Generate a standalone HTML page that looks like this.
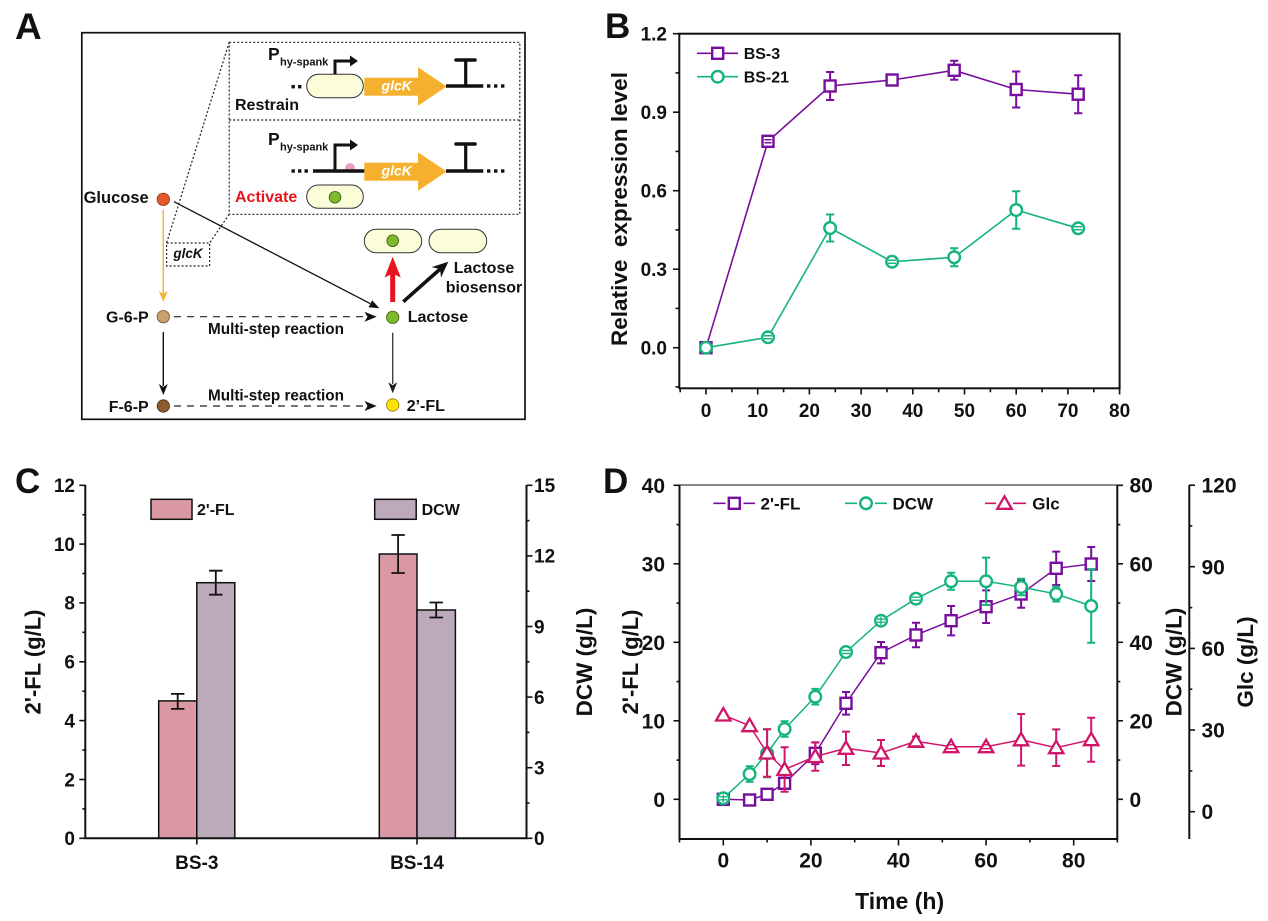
<!DOCTYPE html>
<html><head><meta charset="utf-8"><style>
html,body{margin:0;padding:0;background:#fff;}
svg{display:block;}
text{font-family:"Liberation Sans",Arial,sans-serif;font-weight:bold;fill:#111;}
</style></head><body>
<svg width="1268" height="921" viewBox="0 0 1268 921" xmlns="http://www.w3.org/2000/svg">
<rect width="1268" height="921" fill="#fff"/>

<!-- ================= PANEL A ================= -->
<text x="15" y="39" font-size="37">A</text>
<rect x="81.8" y="32.7" width="443.2" height="386.6" fill="none" stroke="#111" stroke-width="1.7"/>
<g fill="none" stroke="#222" stroke-width="1.2" stroke-dasharray="2 2">
<rect x="229.2" y="42.3" width="290.6" height="172"/>
<line x1="229.2" y1="120" x2="519.8" y2="120"/>
<line x1="229.2" y1="42.3" x2="166.6" y2="243"/>
<line x1="229.2" y1="214.3" x2="209.6" y2="243"/>
<rect x="166.6" y="243" width="43" height="23"/>
</g>
<text x="188" y="258" font-size="13.5" font-style="italic" text-anchor="middle">glcK</text>

<!-- construct 1 -->
<text x="268" y="60" font-size="17.5">P</text>
<text x="280" y="65.5" font-size="11">hy-spank</text>
<g fill="#111">
<rect x="291.5" y="85" width="3.4" height="3.4"/><rect x="298" y="85" width="3.4" height="3.4"/>
</g>
<rect x="306.7" y="74.3" width="56.6" height="23.4" rx="11.7" fill="#FBFCD8" stroke="#333" stroke-width="1"/>
<polyline points="335,74.3 335,61 352,61" fill="none" stroke="#111" stroke-width="3"/>
<polygon points="358,61 350,55.5 350,66.5" fill="#111"/>
<rect x="364.3" y="77.7" width="54.5" height="18" fill="#F5B12E"/>
<polygon points="418,67.3 446.7,86.5 418,105.7" fill="#F5B12E"/>
<text x="396.7" y="90.7" font-size="14" font-style="italic" text-anchor="middle" style="fill:#fff">glcK</text>
<line x1="446" y1="86" x2="483.3" y2="86" stroke="#111" stroke-width="3.4"/>
<line x1="465.7" y1="60" x2="465.7" y2="86" stroke="#111" stroke-width="3.2"/>
<line x1="456" y1="60" x2="475" y2="60" stroke="#111" stroke-width="3.6" stroke-linecap="round"/>
<g fill="#111">
<rect x="487" y="84.3" width="3.4" height="3.4"/><rect x="494" y="84.3" width="3.4" height="3.4"/><rect x="501" y="84.3" width="3.4" height="3.4"/>
</g>
<text x="235" y="110" font-size="16">Restrain</text>

<!-- construct 2 -->
<text x="268" y="145" font-size="17.5">P</text>
<text x="280" y="150.5" font-size="11">hy-spank</text>
<g fill="#111">
<rect x="291.5" y="169.3" width="3.4" height="3.4"/><rect x="298" y="169.3" width="3.4" height="3.4"/><rect x="304.5" y="169.3" width="3.4" height="3.4"/>
</g>
<circle cx="350" cy="168" r="5" fill="#E6A3C6"/>
<line x1="313" y1="171" x2="365" y2="171" stroke="#111" stroke-width="3.4"/>
<polyline points="335,171 335,145 352,145" fill="none" stroke="#111" stroke-width="3"/>
<polygon points="358,145 350,139.5 350,150.5" fill="#111"/>
<rect x="364.3" y="162.7" width="54.5" height="18" fill="#F5B12E"/>
<polygon points="418,152.3 446.7,171.5 418,190.7" fill="#F5B12E"/>
<text x="396.7" y="175.7" font-size="14" font-style="italic" text-anchor="middle" style="fill:#fff">glcK</text>
<line x1="446" y1="171" x2="483.3" y2="171" stroke="#111" stroke-width="3.4"/>
<line x1="465.7" y1="144" x2="465.7" y2="171" stroke="#111" stroke-width="3.2"/>
<line x1="456" y1="144" x2="475" y2="144" stroke="#111" stroke-width="3.6" stroke-linecap="round"/>
<g fill="#111">
<rect x="487" y="169.3" width="3.4" height="3.4"/><rect x="494" y="169.3" width="3.4" height="3.4"/><rect x="501" y="169.3" width="3.4" height="3.4"/>
</g>
<text x="235" y="201.8" font-size="16" style="fill:#E8141E">Activate</text>
<rect x="306.7" y="185" width="56.6" height="23.3" rx="11.6" fill="#FBFCD8" stroke="#333" stroke-width="1"/>
<circle cx="335" cy="197.3" r="5.8" fill="#7DBA2C" stroke="#2d4a10" stroke-width="0.8"/>

<!-- pathway -->
<line x1="174" y1="201.7" x2="370.4" y2="303.7" stroke="#111" stroke-width="1.3"/>
<polygon points="379.3,308.3 368.6,307.3 372.2,300.2" fill="#111"/>
<line x1="163.3" y1="210" x2="163.3" y2="294" stroke="#F6B33A" stroke-width="1.5"/>
<polygon points="163.3,302 158.8,291 163.3,294 167.8,291" fill="#F6B33A"/>
<line x1="163.3" y1="332" x2="163.3" y2="386" stroke="#111" stroke-width="1.4"/>
<polygon points="163.3,395 158.8,384 163.3,387 167.8,384" fill="#111"/>
<line x1="392.7" y1="332.7" x2="392.7" y2="384" stroke="#444" stroke-width="1.4"/>
<polygon points="392.7,393.3 388.2,382.3 392.7,385.3 397.2,382.3" fill="#222"/>
<line x1="174" y1="316.7" x2="366" y2="316.7" stroke="#222" stroke-width="1.2" stroke-dasharray="7 6"/>
<polygon points="376.7,316.7 364.5,311.7 367.5,316.7 364.5,321.7" fill="#111"/>
<line x1="174" y1="406" x2="366" y2="406" stroke="#222" stroke-width="1.2" stroke-dasharray="7 6"/>
<polygon points="376.7,406 364.5,401 367.5,406 364.5,411" fill="#111"/>
<rect x="390.2" y="272" width="5" height="30" fill="#E8141E"/>
<polygon points="392.7,256.7 384.6,277.5 392.7,273.5 400.8,277.5" fill="#E8141E"/>
<line x1="403.3" y1="301.7" x2="440" y2="269.1" stroke="#111" stroke-width="3.6"/>
<polygon points="448.3,261.7 441,277.6 440.1,269 431.6,267.1" fill="#111"/>

<circle cx="163.3" cy="199.3" r="6.2" fill="#E15A28" stroke="#8a3416" stroke-width="0.8"/>
<circle cx="163.3" cy="316.7" r="6.2" fill="#C9A06C" stroke="#6d5433" stroke-width="0.8"/>
<circle cx="163.3" cy="406" r="6.2" fill="#8C5A2E" stroke="#4a2e14" stroke-width="0.8"/>
<circle cx="392.7" cy="317.3" r="6.2" fill="#7DBA2C" stroke="#3d5c14" stroke-width="0.8"/>
<circle cx="392.7" cy="405" r="6.2" fill="#FFE300" stroke="#8a7a00" stroke-width="0.8"/>
<rect x="364.3" y="229.3" width="57.4" height="23.4" rx="11.7" fill="#FBFCD8" stroke="#333" stroke-width="1"/>
<circle cx="392.7" cy="240.7" r="5.8" fill="#7DBA2C" stroke="#2d4a10" stroke-width="0.8"/>
<rect x="429" y="229.3" width="57.7" height="23.4" rx="11.7" fill="#FBFCD8" stroke="#333" stroke-width="1"/>

<text x="148.7" y="202.8" font-size="16.5" text-anchor="end">Glucose</text>
<text x="148.7" y="322.5" font-size="16" text-anchor="end">G-6-P</text>
<text x="148.7" y="411.8" font-size="16" text-anchor="end">F-6-P</text>
<text x="276" y="333.8" font-size="15.3" text-anchor="middle">Multi-step reaction</text>
<text x="276" y="400.5" font-size="15.3" text-anchor="middle">Multi-step reaction</text>
<text x="407.7" y="321.8" font-size="16">Lactose</text>
<text x="406.7" y="410.8" font-size="16">2’-FL</text>
<text x="484" y="273.1" font-size="16" text-anchor="middle">Lactose</text>
<text x="484" y="292.5" font-size="16" text-anchor="middle">biosensor</text>

<!-- ================= PANEL B ================= -->
<text x="605" y="38" font-size="35">B</text>
<rect x="679.3" y="33.7" width="440.3" height="354.6" fill="none" stroke="#111" stroke-width="2"/>
<g stroke="#111" stroke-width="1.6">
<line x1="679.3" y1="347.7" x2="673" y2="347.7"/><line x1="679.3" y1="269.2" x2="673" y2="269.2"/>
<line x1="679.3" y1="190.7" x2="673" y2="190.7"/><line x1="679.3" y1="112.2" x2="673" y2="112.2"/>
<line x1="679.3" y1="33.7" x2="673" y2="33.7"/>
<line x1="679.3" y1="386.9" x2="675.5" y2="386.9"/><line x1="679.3" y1="308.4" x2="675.5" y2="308.4"/>
<line x1="679.3" y1="229.9" x2="675.5" y2="229.9"/><line x1="679.3" y1="151.4" x2="675.5" y2="151.4"/>
<line x1="679.3" y1="72.9" x2="675.5" y2="72.9"/>
<line x1="706" y1="388.3" x2="706" y2="394.5"/><line x1="757.7" y1="388.3" x2="757.7" y2="394.5"/>
<line x1="809.4" y1="388.3" x2="809.4" y2="394.5"/><line x1="861.1" y1="388.3" x2="861.1" y2="394.5"/>
<line x1="912.8" y1="388.3" x2="912.8" y2="394.5"/><line x1="964.5" y1="388.3" x2="964.5" y2="394.5"/>
<line x1="1016.2" y1="388.3" x2="1016.2" y2="394.5"/><line x1="1067.9" y1="388.3" x2="1067.9" y2="394.5"/>
<line x1="1119.6" y1="388.3" x2="1119.6" y2="394.5"/>
<line x1="680.2" y1="388.3" x2="680.2" y2="392.3"/><line x1="731.9" y1="388.3" x2="731.9" y2="392.3"/>
<line x1="783.6" y1="388.3" x2="783.6" y2="392.3"/><line x1="835.3" y1="388.3" x2="835.3" y2="392.3"/>
<line x1="887" y1="388.3" x2="887" y2="392.3"/><line x1="938.7" y1="388.3" x2="938.7" y2="392.3"/>
<line x1="990.4" y1="388.3" x2="990.4" y2="392.3"/><line x1="1042.1" y1="388.3" x2="1042.1" y2="392.3"/>
<line x1="1093.8" y1="388.3" x2="1093.8" y2="392.3"/>
</g>
<g font-size="19" text-anchor="end">
<text x="667" y="354.5">0.0</text><text x="667" y="276">0.3</text><text x="667" y="197.5">0.6</text>
<text x="667" y="119">0.9</text><text x="667" y="40.5">1.2</text>
</g>
<g font-size="19" text-anchor="middle">
<text x="706" y="416.8">0</text><text x="757.7" y="416.8">10</text><text x="809.4" y="416.8">20</text>
<text x="861.1" y="416.8">30</text><text x="912.8" y="416.8">40</text><text x="964.5" y="416.8">50</text>
<text x="1016.2" y="416.8">60</text><text x="1067.9" y="416.8">70</text><text x="1119.6" y="416.8">80</text>
</g>
<text transform="translate(627,209) rotate(-90)" font-size="22.5" text-anchor="middle" xml:space="preserve">Relative  expression level</text>

<!-- BS-3 -->
<g stroke="#780D9E" stroke-width="1.6" fill="none">
<polyline points="706,347.7 768,141.3 830.1,86 892.1,80 954.2,70.3 1016.2,89.5 1078.2,94.2"/>
<line x1="697" y1="53.3" x2="738" y2="53.3"/>
</g>
<g stroke="#780D9E" stroke-width="2" fill="none">
<path d="M830.1,72V100M826,72H834.2M826,100H834.2"/>
<path d="M892.1,77V83M888,77H896.2M888,83H896.2"/>
<path d="M954.2,60.8V79.8M950.1,60.8H958.3M950.1,79.8H958.3"/>
<path d="M1016.2,71.5V107.5M1012.1,71.5H1020.3M1012.1,107.5H1020.3"/>
<path d="M1078.2,75.2V113.2M1074.1,75.2H1082.3M1074.1,113.2H1082.3"/>
</g>
<g stroke="#780D9E" stroke-width="2.4" fill="#fff">
<rect x="700.5" y="342.2" width="11" height="11"/>
<rect x="762.5" y="135.8" width="11" height="11"/>
<rect x="824.6" y="80.5" width="11" height="11"/>
<rect x="886.6" y="74.5" width="11" height="11"/>
<rect x="948.7" y="64.8" width="11" height="11"/>
<rect x="1010.7" y="84" width="11" height="11"/>
<rect x="1072.7" y="88.7" width="11" height="11"/>
<rect x="712.2" y="47.8" width="11" height="11"/>
</g>
<g stroke="#780D9E" stroke-width="1.5"><path d="M764.5,139.8H771.5M764.5,142.8H771.5"/></g>
<!-- BS-21 -->
<g stroke="#14B47C" stroke-width="1.6" fill="none">
<polyline points="706,347.7 768,337.3 830.1,228 892.1,261.7 954.2,257.3 1016.2,210 1078.2,228.3"/>
<line x1="697" y1="76.7" x2="738" y2="76.7"/>
</g>
<g stroke="#14B47C" stroke-width="2" fill="none">
<path d="M830.1,214.5V241.5M826,214.5H834.2M826,241.5H834.2"/>
<path d="M954.2,248.3V266.3M950.1,248.3H958.3M950.1,266.3H958.3"/>
<path d="M1016.2,191.3V228.7M1012.1,191.3H1020.3M1012.1,228.7H1020.3"/>
</g>
<g stroke="#14B47C" stroke-width="2.4" fill="#fff">
<circle cx="706" cy="347.7" r="5.8"/>
<circle cx="768" cy="337.3" r="5.8"/>
<circle cx="830.1" cy="228" r="5.8"/>
<circle cx="892.1" cy="261.7" r="5.8"/>
<circle cx="954.2" cy="257.3" r="5.8"/>
<circle cx="1016.2" cy="210" r="5.8"/>
<circle cx="1078.2" cy="228.3" r="5.8"/>
<circle cx="717.7" cy="76.7" r="5.8"/>
</g>
<g stroke="#14B47C" stroke-width="1.5"><path d="M764,335.8H772M764,338.8H772M888,260.2H896M888,263.2H896M1074,226.8H1082M1074,229.8H1082"/></g>
<text x="743.7" y="59" font-size="16">BS-3</text>
<text x="743.7" y="82.5" font-size="16">BS-21</text>

<!-- ================= PANEL C ================= -->
<text x="15" y="493" font-size="35">C</text>
<g stroke="#111" stroke-width="1.5">
<rect x="158.7" y="700.9" width="38.1" height="137.4" fill="#D998A4"/>
<rect x="196.8" y="582.7" width="38" height="255.6" fill="#BCAABB"/>
<rect x="379.3" y="554" width="37.7" height="284.3" fill="#D998A4"/>
<rect x="417" y="610" width="38.4" height="228.3" fill="#BCAABB"/>
</g>
<g stroke="#111" stroke-width="1.8" fill="none">
<path d="M177.7,693.9V708.9M171,693.9H184.4M171,708.9H184.4"/>
<path d="M215.8,570.7V594.7M209.1,570.7H222.5M209.1,594.7H222.5"/>
<path d="M398.1,535V573M391.4,535H404.8M391.4,573H404.8"/>
<path d="M436.2,602.5V617.5M429.5,602.5H442.9M429.5,617.5H442.9"/>
</g>
<g stroke="#111" stroke-width="2" fill="none">
<polyline points="85.3,485 85.3,838.3 526.5,838.3 526.5,485"/>
</g>
<g stroke="#111" stroke-width="1.6">
<line x1="85.3" y1="838.3" x2="79.3" y2="838.3"/><line x1="85.3" y1="779.5" x2="79.3" y2="779.5"/>
<line x1="85.3" y1="720.6" x2="79.3" y2="720.6"/><line x1="85.3" y1="661.8" x2="79.3" y2="661.8"/>
<line x1="85.3" y1="602.9" x2="79.3" y2="602.9"/><line x1="85.3" y1="544.1" x2="79.3" y2="544.1"/>
<line x1="85.3" y1="485.3" x2="79.3" y2="485.3"/>
<line x1="85.3" y1="808.9" x2="82.3" y2="808.9"/><line x1="85.3" y1="750" x2="82.3" y2="750"/>
<line x1="85.3" y1="691.2" x2="82.3" y2="691.2"/><line x1="85.3" y1="632.3" x2="82.3" y2="632.3"/>
<line x1="85.3" y1="573.5" x2="82.3" y2="573.5"/><line x1="85.3" y1="514.7" x2="82.3" y2="514.7"/>
<line x1="526.5" y1="838.3" x2="532.5" y2="838.3"/><line x1="526.5" y1="767.7" x2="532.5" y2="767.7"/>
<line x1="526.5" y1="697.1" x2="532.5" y2="697.1"/><line x1="526.5" y1="626.5" x2="532.5" y2="626.5"/>
<line x1="526.5" y1="555.9" x2="532.5" y2="555.9"/><line x1="526.5" y1="485.3" x2="532.5" y2="485.3"/>
<line x1="526.5" y1="803" x2="529.5" y2="803"/><line x1="526.5" y1="732.4" x2="529.5" y2="732.4"/>
<line x1="526.5" y1="661.8" x2="529.5" y2="661.8"/><line x1="526.5" y1="591.2" x2="529.5" y2="591.2"/>
<line x1="526.5" y1="520.6" x2="529.5" y2="520.6"/>
<line x1="196.8" y1="838.3" x2="196.8" y2="844.5"/><line x1="417" y1="838.3" x2="417" y2="844.5"/>
</g>
<g font-size="19" text-anchor="end">
<text x="75" y="845.1">0</text><text x="75" y="786.3">2</text><text x="75" y="727.4">4</text>
<text x="75" y="668.6">6</text><text x="75" y="609.7">8</text><text x="75" y="550.9">10</text>
<text x="75" y="492.1">12</text>
</g>
<g font-size="19">
<text x="534" y="845.1">0</text><text x="534" y="774.5">3</text><text x="534" y="703.9">6</text>
<text x="534" y="633.3">9</text><text x="534" y="562.7">12</text><text x="534" y="492.1">15</text>
</g>
<g font-size="19" text-anchor="middle">
<text x="196.8" y="868.8">BS-3</text><text x="417" y="868.8">BS-14</text>
</g>
<text transform="translate(40.7,662) rotate(-90)" font-size="22" text-anchor="middle">2'-FL (g/L)</text>
<text transform="translate(592,662) rotate(-90)" font-size="22.5" text-anchor="middle">DCW (g/L)</text>
<rect x="151" y="499.3" width="41" height="20" fill="#D998A4" stroke="#111" stroke-width="1.5"/>
<text x="197" y="515" font-size="16">2'-FL</text>
<rect x="374.7" y="499.3" width="41.5" height="20" fill="#BCAABB" stroke="#111" stroke-width="1.5"/>
<text x="421.6" y="515" font-size="16">DCW</text>

<!-- ================= PANEL D ================= -->
<text x="603" y="493" font-size="35">D</text>
<g stroke="#111" stroke-width="2" fill="none">
<polyline points="679.5,484.8 679.5,839 1117.3,839 1117.3,484.8"/>
<line x1="1189.3" y1="485" x2="1189.3" y2="839"/>
</g>
<line x1="679.5" y1="485" x2="1117.3" y2="485" stroke="#111" stroke-width="1"/>
<g stroke="#111" stroke-width="1.6">
<line x1="679.5" y1="799.3" x2="673.5" y2="799.3"/><line x1="679.5" y1="720.8" x2="673.5" y2="720.8"/>
<line x1="679.5" y1="642.3" x2="673.5" y2="642.3"/><line x1="679.5" y1="563.8" x2="673.5" y2="563.8"/>
<line x1="679.5" y1="485.3" x2="673.5" y2="485.3"/>
<line x1="679.5" y1="760.1" x2="676.5" y2="760.1"/><line x1="679.5" y1="681.6" x2="676.5" y2="681.6"/>
<line x1="679.5" y1="603.1" x2="676.5" y2="603.1"/><line x1="679.5" y1="524.6" x2="676.5" y2="524.6"/>
<line x1="1117.3" y1="799.3" x2="1123" y2="799.3"/><line x1="1117.3" y1="720.8" x2="1123" y2="720.8"/>
<line x1="1117.3" y1="642.3" x2="1123" y2="642.3"/><line x1="1117.3" y1="563.8" x2="1123" y2="563.8"/>
<line x1="1117.3" y1="485.3" x2="1123" y2="485.3"/>
<line x1="1117.3" y1="760.1" x2="1120.3" y2="760.1"/><line x1="1117.3" y1="681.6" x2="1120.3" y2="681.6"/>
<line x1="1117.3" y1="603.1" x2="1120.3" y2="603.1"/><line x1="1117.3" y1="524.6" x2="1120.3" y2="524.6"/>
<line x1="1189.3" y1="811.7" x2="1195" y2="811.7"/><line x1="1189.3" y1="730" x2="1195" y2="730"/>
<line x1="1189.3" y1="648.4" x2="1195" y2="648.4"/><line x1="1189.3" y1="566.7" x2="1195" y2="566.7"/>
<line x1="1189.3" y1="485.2" x2="1195" y2="485.2"/>
<line x1="1189.3" y1="770.9" x2="1192.3" y2="770.9"/><line x1="1189.3" y1="689.2" x2="1192.3" y2="689.2"/>
<line x1="1189.3" y1="607.6" x2="1192.3" y2="607.6"/><line x1="1189.3" y1="525.9" x2="1192.3" y2="525.9"/>
<line x1="723.3" y1="839" x2="723.3" y2="845.5"/><line x1="810.9" y1="839" x2="810.9" y2="845.5"/>
<line x1="898.5" y1="839" x2="898.5" y2="845.5"/><line x1="986.1" y1="839" x2="986.1" y2="845.5"/>
<line x1="1073.7" y1="839" x2="1073.7" y2="845.5"/>
<line x1="679.5" y1="839" x2="679.5" y2="842.5"/><line x1="767.1" y1="839" x2="767.1" y2="842.5"/>
<line x1="854.7" y1="839" x2="854.7" y2="842.5"/><line x1="942.3" y1="839" x2="942.3" y2="842.5"/>
<line x1="1029.9" y1="839" x2="1029.9" y2="842.5"/><line x1="1117.3" y1="839" x2="1117.3" y2="842.5"/>
</g>
<g font-size="21" text-anchor="end">
<text x="665" y="806.8">0</text><text x="665" y="728.3">10</text><text x="665" y="649.8">20</text>
<text x="665" y="571.3">30</text><text x="665" y="492.8">40</text>
</g>
<g font-size="21">
<text x="1129.5" y="806.8">0</text><text x="1129.5" y="728.3">20</text><text x="1129.5" y="649.8">40</text>
<text x="1129.5" y="571.3">60</text><text x="1129.5" y="492.3">80</text>
<text x="1201.5" y="819.2">0</text><text x="1201.5" y="737.5">30</text><text x="1201.5" y="655.9">60</text>
<text x="1201.5" y="574.5">90</text><text x="1201.5" y="492.3">120</text>
</g>
<g font-size="21" text-anchor="middle">
<text x="723.3" y="867.5">0</text><text x="810.9" y="867.5">20</text><text x="898.5" y="867.5">40</text>
<text x="986.1" y="867.5">60</text><text x="1073.7" y="867.5">80</text>
</g>
<text x="899.6" y="909" font-size="23" text-anchor="middle">Time (h)</text>
<text transform="translate(638,662) rotate(-90)" font-size="22" text-anchor="middle">2'-FL (g/L)</text>
<text transform="translate(1181.5,662) rotate(-90)" font-size="22.5" text-anchor="middle">DCW (g/L)</text>
<text transform="translate(1253,662) rotate(-90)" font-size="22.5" text-anchor="middle">Glc (g/L)</text>

<!-- 2'-FL series -->
<g stroke="#780D9E" fill="none">
<polyline stroke-width="1.5" points="723.3,799.3 749.6,800 767.1,794.3 784.6,783.3 815.3,753.3 846,703.3 881,652.7 916,635 951.1,620.7 986.1,606.7 1021.1,594 1056.2,568.3 1091.2,564"/>
<path stroke-width="2" d="M784.6,778.3V788.3M780.6,778.3H788.6M780.6,788.3H788.6
M815.3,742.5V764.1M811.3,742.5H819.3M811.3,764.1H819.3
M846,692V714.6M842,692H850M842,714.6H850
M881,642V663.4M877,642H885M877,663.4H885
M916,622.7V647.3M912,622.7H920M912,647.3H920
M951.1,606V635.4M947.1,606H955.1M947.1,635.4H955.1
M986.1,590.4V623M982.1,590.4H990.1M982.1,623H990.1
M1021.1,580.3V607.7M1017.1,580.3H1025.1M1017.1,607.7H1025.1
M1056.2,551.6V585M1052.2,551.6H1060.2M1052.2,585H1060.2
M1091.2,547V581M1087.2,547H1095.2M1087.2,581H1095.2"/>
<path stroke-width="1.6" d="M713.4,503.3H725.5M743.5,503.3H755"/>
</g>
<g stroke="#780D9E" stroke-width="2.4" fill="#fff">
<rect x="717.8" y="793.8" width="11" height="11"/>
<rect x="744.1" y="794.5" width="11" height="11"/>
<rect x="761.6" y="788.8" width="11" height="11"/>
<rect x="779.1" y="777.8" width="11" height="11"/>
<rect x="809.8" y="747.8" width="11" height="11"/>
<rect x="840.5" y="697.8" width="11" height="11"/>
<rect x="875.5" y="647.2" width="11" height="11"/>
<rect x="910.5" y="629.5" width="11" height="11"/>
<rect x="945.6" y="615.2" width="11" height="11"/>
<rect x="980.6" y="601.2" width="11" height="11"/>
<rect x="1015.6" y="588.5" width="11" height="11"/>
<rect x="1050.7" y="562.8" width="11" height="11"/>
<rect x="1085.7" y="558.5" width="11" height="11"/>
<rect x="728.8" y="497.8" width="11" height="11"/>
</g>
<!-- DCW series -->
<g stroke="#14B47C" fill="none">
<polyline stroke-width="1.5" points="723.3,798.3 749.6,774 767.1,753.3 784.6,729 815.3,696.7 846,652 881,620.7 916,598.7 951.1,581.3 986.1,581.3 1021.1,587 1056.2,594 1091.2,606"/>
<path stroke-width="2" d="M749.6,766.2V781.8M745.6,766.2H753.6M745.6,781.8H753.6
M767.1,729.3V777.3M763.1,729.3H771.1M763.1,777.3H771.1
M784.6,721.2V736.8M780.6,721.2H788.6M780.6,736.8H788.6
M815.3,688.9V704.5M811.3,688.9H819.3M811.3,704.5H819.3
M846,647.5V656.5M842,647.5H850M842,656.5H850
M881,616.5V624.9M877,616.5H885M877,624.9H885
M916,594.7V602.7M912,594.7H920M912,602.7H920
M951.1,572.8V589.8M947.1,572.8H955.1M947.1,589.8H955.1
M986.1,557.6V605M982.1,557.6H990.1M982.1,605H990.1
M1021.1,578.8V595.2M1017.1,578.8H1025.1M1017.1,595.2H1025.1
M1056.2,586.5V601.5M1052.2,586.5H1060.2M1052.2,601.5H1060.2
M1091.2,569.3V642.7M1087.2,569.3H1095.2M1087.2,642.7H1095.2"/>
<path stroke-width="1.6" d="M845,503.3H857M875,503.3H887"/>
</g>
<g stroke="#14B47C" stroke-width="2.4" fill="#fff">
<circle cx="723.3" cy="798.3" r="5.8"/><circle cx="749.6" cy="774" r="5.8"/>
<circle cx="767.1" cy="753.3" r="5.8"/><circle cx="784.6" cy="729" r="5.8"/>
<circle cx="815.3" cy="696.7" r="5.8"/><circle cx="846" cy="652" r="5.8"/>
<circle cx="881" cy="620.7" r="5.8"/><circle cx="916" cy="598.7" r="5.8"/>
<circle cx="951.1" cy="581.3" r="5.8"/><circle cx="986.1" cy="581.3" r="5.8"/>
<circle cx="1021.1" cy="587" r="5.8"/><circle cx="1056.2" cy="594" r="5.8"/>
<circle cx="1091.2" cy="606" r="5.8"/><circle cx="866" cy="503.3" r="5.8"/>
</g>
<g stroke="#14B47C" stroke-width="1.4"><path d="M719.3,796.8H727.3M719.3,799.8H727.3M723.3,794.5V802.1M842,650.5H850M842,653.5H850M877,619.2H885M877,622.2H885M881,616.5V624.9M912,597.2H920M912,600.2H920"/></g>
<!-- Glc series -->
<g stroke="#D1166A" fill="none">
<polyline stroke-width="1.5" points="723.3,715 749.6,725.7 767.1,753 784.6,769.5 815.3,756.5 846,748.3 881,753 916,741.3 951.1,746.7 986.1,746.7 1021.1,739.8 1056.2,747.7 1091.2,739.7"/>
<path stroke-width="2" d="M767.1,729.3V776.7M763.1,729.3H771.1M763.1,776.7H771.1
M784.6,747.3V791.7M780.6,747.3H788.6M780.6,791.7H788.6
M815.3,742.3V770.7M811.3,742.3H819.3M811.3,770.7H819.3
M846,731.6V765M842,731.6H850M842,765H850
M881,740V766M877,740H885M877,766H885
M916,736.6V746M912,736.6H920M912,746H920
M1021.1,714V765.6M1017.1,714H1025.1M1017.1,765.6H1025.1
M1056.2,729.4V766M1052.2,729.4H1060.2M1052.2,766H1060.2
M1091.2,717.7V761.7M1087.2,717.7H1095.2M1087.2,761.7H1095.2"/>
<path stroke-width="1.6" d="M985,503.3H996M1013,503.3H1026"/>
</g>
<g stroke="#D1166A" stroke-width="2.3" fill="#fff" stroke-linejoin="miter">
<polygon points="723.3,708 730.5,720.5 716.1,720.5"/>
<polygon points="749.6,718.7 756.8,731.2 742.4,731.2"/>
<polygon points="767.1,746 774.3,758.5 759.9,758.5"/>
<polygon points="784.6,762.5 791.8,775 777.4,775"/>
<polygon points="815.3,749.5 822.5,762 808.1,762"/>
<polygon points="846,741.3 853.2,753.8 838.8,753.8"/>
<polygon points="881,746 888.2,758.5 873.8,758.5"/>
<polygon points="916,734.3 923.2,746.8 908.8,746.8"/>
<polygon points="951.1,739.7 958.3,752.2 943.9,752.2"/>
<polygon points="986.1,739.7 993.3,752.2 978.9,752.2"/>
<polygon points="1021.1,732.8 1028.3,745.3 1013.9,745.3"/>
<polygon points="1056.2,740.7 1063.4,753.2 1049,753.2"/>
<polygon points="1091.2,732.7 1098.4,745.2 1084,745.2"/>
<polygon points="1004.5,496.3 1011.7,508.8 997.3,508.8"/>
</g>
<g stroke="#D1166A" stroke-width="1.4"><path d="M912,736.6H920M912,746H920M947.1,744.7H955.1M947.1,748.7H955.1M982.1,744.7H990.1M982.1,748.7H990.1"/></g>
<text x="760.5" y="509.3" font-size="17">2'-FL</text>
<text x="892.5" y="509.3" font-size="17">DCW</text>
<text x="1032.3" y="509.3" font-size="17">Glc</text>
</svg>
</body></html>
